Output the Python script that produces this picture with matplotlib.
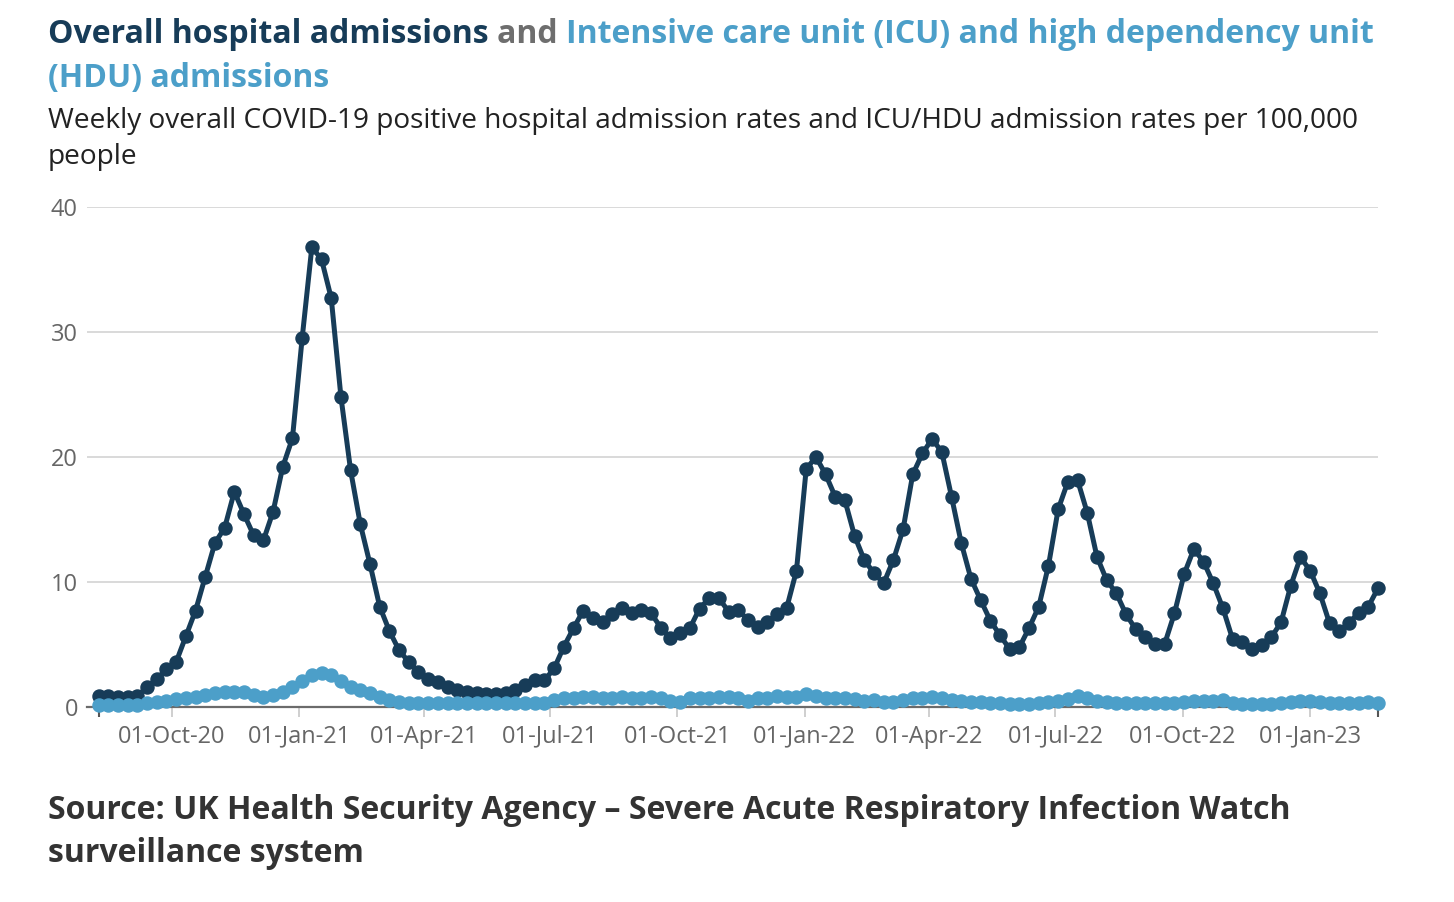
import matplotlib
matplotlib.use("Agg")
import matplotlib.dates as mdates
import matplotlib.pyplot as plt
import pandas as pd


NAVY = "#173c58"
BLUE = "#4c9fc9"
GREY_TEXT = "#666666"

# weekly points, first week and count
START_DATE = "2020-08-09"
N_WEEKS = 133

overall_rate = [
    0.81, 0.81, 0.73, 0.76, 0.86, 1.54, 2.22, 2.97, 3.57, 5.62,
    7.68, 10.4, 13.1, 14.3, 17.2, 15.4, 13.7, 13.3, 15.6, 19.2,
    21.5, 29.5, 36.8, 35.8, 32.7, 24.8, 18.9, 14.6, 11.4, 8.0,
    6.05, 4.5, 3.57, 2.76, 2.2, 2.0, 1.6, 1.35, 1.2, 1.1,
    1.0, 1.0, 1.1, 1.35, 1.75, 2.1, 2.1, 3.05, 4.8, 6.27,
    7.68, 7.07, 6.8, 7.39, 7.92, 7.52, 7.73, 7.47, 6.32, 5.47,
    5.87, 6.27, 7.84, 8.67, 8.67, 7.6, 7.73, 6.93, 6.4, 6.8,
    7.39, 7.92, 10.88, 18.99, 20.0, 18.6, 16.8, 16.5, 13.65, 11.73,
    10.67, 9.87, 11.73, 14.19, 18.6, 20.27, 21.44, 20.37, 16.8, 13.1,
    10.24, 8.53, 6.88, 5.71, 4.59, 4.75, 6.29, 8.0, 11.28, 15.79,
    18.0, 18.13, 15.52, 12.0, 10.13, 9.07, 7.39, 6.19, 5.55, 4.99,
    5.04, 7.47, 10.61, 12.61, 11.6, 9.87, 7.87, 5.39, 5.2, 4.61,
    4.93, 5.55, 6.75, 9.68, 11.95, 10.88, 9.07, 6.67, 6.05, 6.67,
    7.52, 8.0, 9.47,
]

icu_hdu_rate = [
    0.13, 0.13, 0.13, 0.13, 0.13, 0.27, 0.4, 0.48, 0.59, 0.67,
    0.75, 0.93, 1.07, 1.15, 1.2, 1.2, 0.93, 0.8, 0.93, 1.2,
    1.55, 2.08, 2.53, 2.72, 2.53, 2.08, 1.6, 1.33, 1.07, 0.75,
    0.53, 0.4, 0.32, 0.3, 0.3, 0.3, 0.3, 0.27, 0.27, 0.27,
    0.27, 0.27, 0.27, 0.27, 0.3, 0.3, 0.32, 0.53, 0.67, 0.72,
    0.8, 0.8, 0.72, 0.72, 0.8, 0.72, 0.72, 0.77, 0.67, 0.45,
    0.4, 0.67, 0.72, 0.72, 0.8, 0.8, 0.67, 0.45, 0.67, 0.72,
    0.88, 0.8, 0.8, 0.99, 0.88, 0.72, 0.67, 0.67, 0.61, 0.45,
    0.53, 0.4, 0.35, 0.53, 0.67, 0.72, 0.8, 0.67, 0.53, 0.45,
    0.4, 0.35, 0.32, 0.27, 0.21, 0.19, 0.21, 0.27, 0.35, 0.46,
    0.61, 0.88, 0.67, 0.45, 0.4, 0.32, 0.32, 0.32, 0.32, 0.27,
    0.27, 0.32, 0.4, 0.48, 0.48, 0.48, 0.53, 0.27, 0.21, 0.21,
    0.19, 0.21, 0.27, 0.4, 0.48, 0.48, 0.4, 0.32, 0.32, 0.32,
    0.32, 0.4, 0.32,
]

y_ticks = [0, 10, 20, 30, 40]


def main() -> None:
    plt.rcParams["font.family"] = ["Open Sans", "DejaVu Sans"]

    dates = pd.date_range(START_DATE, periods=N_WEEKS, freq="7D")
    df = pd.DataFrame({"date": dates, "overall": overall_rate, "icu": icu_hdu_rate})

    fig = plt.figure(figsize=(14.54, 9.02), dpi=100)
    W, H = 1454, 902
    ax = fig.add_axes([87 / W, 1 - 706.5 / H, (1378 - 87) / W, (706.5 - 207) / H])

    ax.plot(df["date"], df["overall"], color=NAVY, linewidth=3.6, marker="o",
            markersize=9.4, zorder=3, clip_on=False)
    ax.plot(df["date"], df["icu"], color=BLUE, linewidth=3.6, marker="o",
            markersize=9.4, zorder=4, clip_on=False)

    first, last = df["date"].iloc[0], df["date"].iloc[-1]
    ax.set_xlim(first - pd.Timedelta(days=8.4), last)
    ax.set_ylim(0, 40)
    ax.set_yticks(y_ticks)

    ax.xaxis.set_major_locator(mdates.MonthLocator(bymonth=[1, 4, 7, 10]))
    ax.xaxis.set_major_formatter(mdates.DateFormatter("%d-%b-%y"))
    ax.set_xticks([first, last], minor=True)

    ax.grid(axis="y", color="#d9d9d9", linewidth=1.4)
    ax.set_axisbelow(True)
    for side in ["top", "right", "left"]:
        ax.spines[side].set_visible(False)
    ax.spines["bottom"].set_color("#6b6b6b")
    ax.spines["bottom"].set_linewidth(1.6)
    ax.spines["bottom"].set_zorder(2)

    ax.tick_params(axis="y", length=0, pad=6.5, labelsize=17, labelcolor=GREY_TEXT)
    ax.tick_params(axis="x", which="major", length=7, width=1.3, color="#cccccc",
                   pad=6, labelsize=17, labelcolor=GREY_TEXT)
    ax.tick_params(axis="x", which="minor", length=7, width=1.5, color="#555555")

    # title with three colours on the first line
    fig.canvas.draw()
    renderer = fig.canvas.get_renderer()
    title_kw = dict(fontsize=23.0, fontweight="bold", va="baseline", ha="left")
    x = 48 / W
    y1 = 1 - 43 / H
    pieces = [
        ("Overall hospital admissions ", NAVY),
        ("and ", "#6e6e6e"),
        ("Intensive care unit (ICU) and high dependency unit", BLUE),
    ]
    for text, color in pieces:
        t = fig.text(x, y1, text, color=color, **title_kw)
        bb = t.get_window_extent(renderer)
        x = x + bb.width / W
    fig.text(48 / W, 1 - 87 / H, "(HDU) admissions", color=BLUE, **title_kw)

    fig.text(48 / W, 1 - 128 / H,
             "Weekly overall COVID-19 positive hospital admission rates and ICU/HDU admission rates per 100,000",
             fontsize=20.2, color="#222222", va="baseline", ha="left")
    fig.text(48 / W, 1 - 164 / H, "people", fontsize=20.2, color="#222222",
             va="baseline", ha="left")

    fig.text(48 / W, 1 - 819 / H,
             "Source: UK Health Security Agency \u2013 Severe Acute Respiratory Infection Watch",
             fontsize=23, fontweight="bold", color="#333333", va="baseline", ha="left")
    fig.text(48 / W, 1 - 862 / H, "surveillance system", fontsize=23,
             fontweight="bold", color="#333333", va="baseline", ha="left")

    fig.savefig("out.png", dpi=100)
    plt.close(fig)


if __name__ == "__main__":
    main()
